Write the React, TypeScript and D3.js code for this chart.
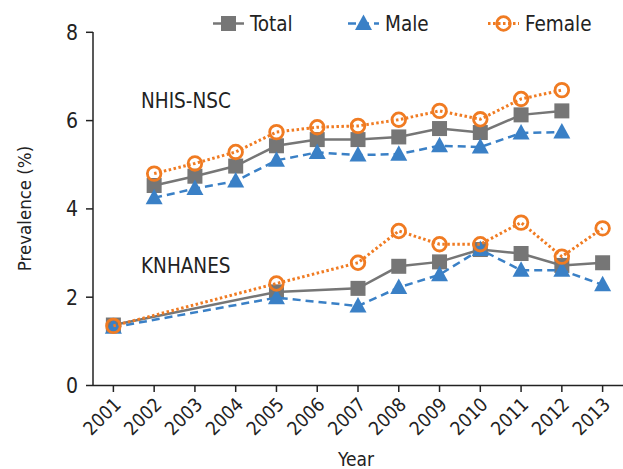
import React from "react";
import * as d3 from "d3";

const years = ["2001","2002","2003","2004","2005","2006","2007","2008","2009","2010","2011","2012","2013"];
const yTicks = [0, 2, 4, 6, 8];

const nhisYears = ["2002","2003","2004","2005","2006","2007","2008","2009","2010","2011","2012"];
const nhisTotal = [4.53, 4.74, 4.97, 5.43, 5.57, 5.57, 5.63, 5.82, 5.73, 6.13, 6.22];
const nhisMale = [4.25, 4.46, 4.63, 5.1, 5.28, 5.22, 5.24, 5.43, 5.4, 5.72, 5.74];
const nhisFemale = [4.8, 5.03, 5.29, 5.74, 5.85, 5.88, 6.02, 6.22, 6.03, 6.49, 6.69];

const knYears = ["2001","2005","2007","2008","2009","2010","2011","2012","2013"];
const knTotal = [1.37, 2.12, 2.2, 2.7, 2.8, 3.08, 2.99, 2.72, 2.78];
const knMale = [1.32, 1.99, 1.8, 2.22, 2.51, 3.08, 2.61, 2.61, 2.28];
const knFemale = [1.35, 2.31, 2.78, 3.5, 3.2, 3.2, 3.69, 2.92, 3.56];

const W = 623, H = 469;
const FONT = "'Liberation Sans Narrow', 'DejaVu Sans Condensed', 'Roboto', sans-serif";
const GRAY = "#767676", BLUE = "#3a80c6", ORANGE = "#f07b22";

export default function App() {
  const x = d3.scalePoint<string>().domain(years).range([93, 623]).padding(0.5);
  const y = d3.scaleLinear().domain([0, 8]).range([385.5, 32.3]);
  const line = d3.line<[string, number]>().x(d => x(d[0])!).y(d => y(d[1]));

  const series = [
    { name: "Total", color: GRAY, dash: undefined as string | undefined, width: 2.5, marker: "square", groups: [[nhisYears, nhisTotal], [knYears, knTotal]] },
    { name: "Male", color: BLUE, dash: "8,5", width: 2.5, marker: "triangle", groups: [[nhisYears, nhisMale], [knYears, knMale]] },
    { name: "Female", color: ORANGE, dash: "2.5,2.5", width: 3, marker: "circle", groups: [[nhisYears, nhisFemale], [knYears, knFemale]] },
  ];

  const marker = (type: string, cx: number, cy: number, color: string, key: string) => {
    if (type === "square") return <rect key={key} x={cx - 7.5} y={cy - 7.5} width={15} height={15} fill={color} />;
    if (type === "triangle") {
      const p = d3.path();
      p.moveTo(cx, cy - 9); p.lineTo(cx + 8.5, cy + 6.5); p.lineTo(cx - 8.5, cy + 6.5); p.closePath();
      return <path key={key} d={p.toString()} fill={color} />;
    }
    return <circle key={key} cx={cx} cy={cy} r={6.8} fill="none" stroke={color} strokeWidth={2.8} />;
  };

  const legendItems = [
    { s: series[0], x0: 213 },
    { s: series[1], x0: 348 },
    { s: series[2], x0: 488 },
  ];

  return (
    <svg width={W} height={H} style={{ position: "absolute", left: 0, top: 0, background: "#fff" }} fontFamily={FONT}>
      <line x1={93} x2={93} y1={32} y2={385.5} stroke="#222" strokeWidth={1.5} />
      <line x1={93} x2={623} y1={385.5} y2={385.5} stroke="#222" strokeWidth={1.5} />
      {yTicks.map(t => (
        <g key={t}>
          <line x1={86} x2={93} y1={y(t)} y2={y(t)} stroke="#222" strokeWidth={1.5} />
          <text x={78} y={y(t)} dy="0.36em" textAnchor="end" fontSize={21} fill="#222">{t}</text>
        </g>
      ))}
      {years.map(yr => (
        <g key={yr}>
          <line x1={x(yr)} x2={x(yr)} y1={385.5} y2={392} stroke="#222" strokeWidth={1.5} />
          <text transform={`translate(${x(yr)! + 4},${401}) rotate(-45)`} textAnchor="end" dy="0.35em" fontSize={19} fill="#222">{yr}</text>
        </g>
      ))}
      <text transform={`translate(31,${(32 + 385) / 2}) rotate(-90)`} textAnchor="middle" fontSize={18.5} fill="#222">Prevalence (%)</text>
      <text x={356} y={466} textAnchor="middle" fontSize={19} fill="#222">Year</text>

      <text x={141} y={108} fontSize={20.5} fill="#222">NHIS-NSC</text>
      <text x={141} y={273} fontSize={20.5} fill="#222">KNHANES</text>

      {series.map(s => (
        <g key={s.name}>
          {s.groups.map((g, gi) => {
            const pts = (g[0] as string[]).map((yr, i) => [yr, (g[1] as number[])[i]] as [string, number]);
            return (
              <g key={gi}>
                <path d={line(pts)!} fill="none" stroke={s.color} strokeWidth={s.width} strokeDasharray={s.dash} />
                {pts.map((p, i) => marker(s.marker, x(p[0])!, y(p[1]), s.color, `${gi}-${i}`))}
              </g>
            );
          })}
        </g>
      ))}

      {legendItems.map(({ s, x0 }) => (
        <g key={s.name}>
          <line x1={x0} x2={x0 + 31} y1={23.5} y2={23.5} stroke={s.color} strokeWidth={s.width} strokeDasharray={s.dash} />
          {marker(s.marker, x0 + 15.5, 23.5, s.color, "m")}
          <text x={x0 + 37} y={23.5} dy="0.36em" fontSize={20.5} fill="#222">{s.name}</text>
        </g>
      ))}
    </svg>
  );
}
